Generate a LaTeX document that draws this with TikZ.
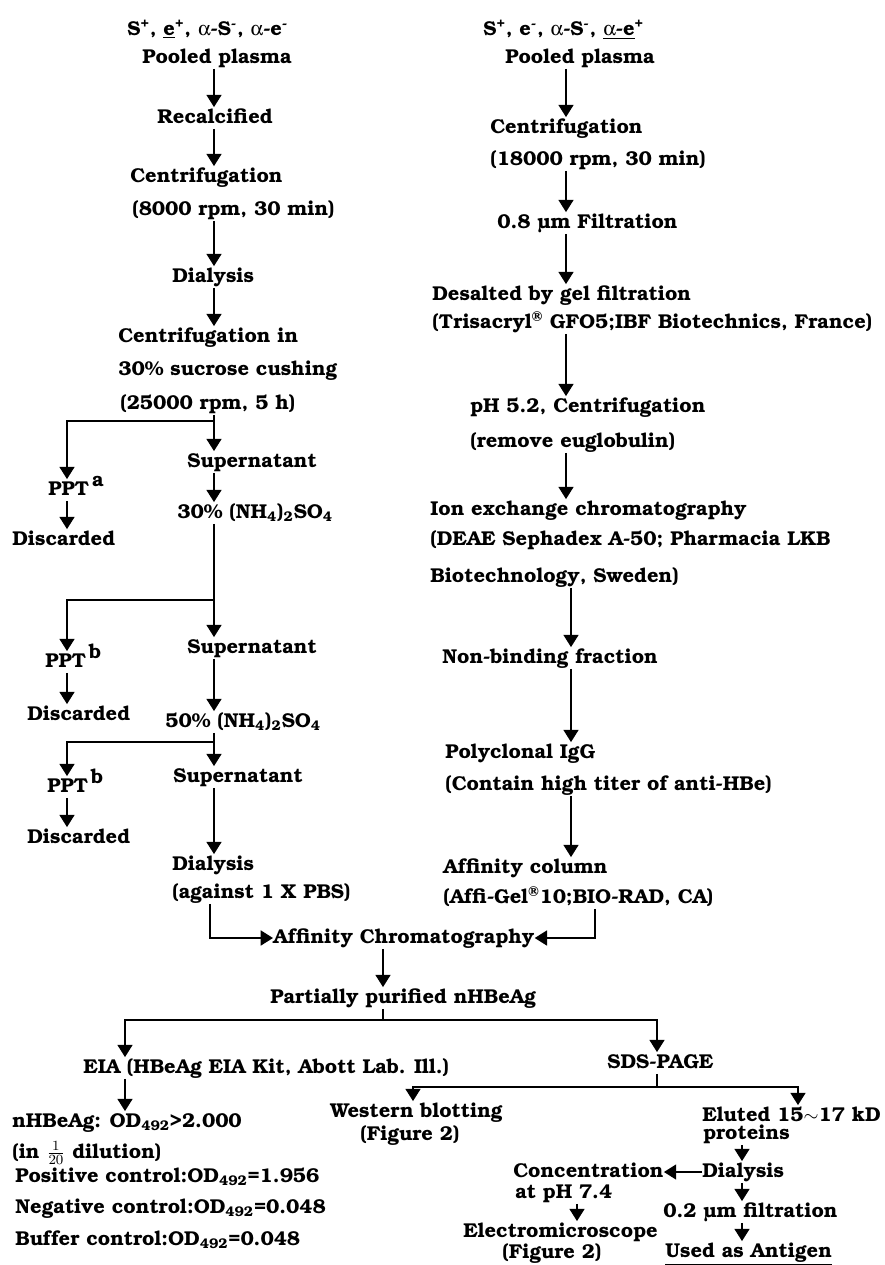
\documentclass[tikz,border=0pt]{standalone}
\usepackage[T1]{fontenc}
\usepackage{bookman}
\usepackage[Symbol]{upgreek}
\usetikzlibrary{arrows.meta}

\begin{document}
\begin{tikzpicture}[x=0.02cm, y=-0.02cm,
    lbl/.style={anchor=west, inner sep=0pt, text height=9pt, text depth=3pt,
      font=\fontsize{11.4}{14}\selectfont\bfseries},
    flow/.style={-{Triangle[width=8.5pt,length=7pt]}, line width=1.1pt},
    link/.style={line width=1.1pt}]
    \useasboundingbox (0,0) rectangle (885,1265);

    % column guides
    \coordinate (cl) at (214,0);
    \coordinate (cp) at (67,0);
    \coordinate (cra) at (566,0);
    \coordinate (crb) at (571,0);
    \coordinate (ml) at (210,0);
    \coordinate (mr) at (595,0);
    \coordinate (cm) at (383,0);
    \coordinate (ca) at (125,0);
    \coordinate (cs) at (657,0);
    \coordinate (cw) at (413,0);
    \coordinate (ce) at (798,0);
    \coordinate (cd) at (742,0);
    \coordinate (cc) at (577,0);

    % left column
    \node[lbl] (hdrL) at (127,30) {S\textsuperscript{+}, \underline{e}\textsuperscript{+}, $\upalpha$-S\textsuperscript{-}, $\upalpha$-e\textsuperscript{-}};
    \node[lbl] (poolL) at (142,58) {Pooled plasma};
    \node[lbl] (recalc) at (157,118) {Recalcified};
    \node[lbl] (cenL) at (130,177) {Centrifugation};
    \node[lbl] (cenLb) at (132,210) {(8000 rpm, 30 min)};
    \node[lbl] (dialL) at (172,277) {Dialysis};
    \node[lbl] (sucA) at (118,337) {Centrifugation in};
    \node[lbl] (sucB) at (118,370) {30\% sucrose cushing};
    \node[lbl] (sucC) at (120,404) {(25000 rpm, 5 h)};
    \node[lbl] (pptA) at (48,490) {PPT\raisebox{5pt}{\,a}};
    \node[lbl] (discA) at (12,540) {Discarded};
    \node[lbl] (supA) at (187,462) {Supernatant};
    \node[lbl] (amsA) at (177,513) {30\% (NH\textsubscript{4})\textsubscript{2}SO\textsubscript{4}};
    \node[lbl] (pptB) at (45,662) {PPT\raisebox{5pt}{\,b}};
    \node[lbl] (discB) at (27,715) {Discarded};
    \node[lbl] (supB) at (187,648) {Supernatant};
    \node[lbl] (amsB) at (165,722) {50\% (NH\textsubscript{4})\textsubscript{2}SO\textsubscript{4}};
    \node[lbl] (supC) at (173,777) {Supernatant};
    \node[lbl] (pptC) at (47,787) {PPT\raisebox{5pt}{\,b}};
    \node[lbl] (discC) at (27,838) {Discarded};
    \node[lbl] (dialLb) at (172,865) {Dialysis};
    \node[lbl] (pbs) at (172,893) {(against 1 X PBS)};

    % right column
    \node[lbl] (hdrR) at (483,30) {S\textsuperscript{+}, e\textsuperscript{-}, $\upalpha$-S\textsuperscript{-}, \underline{$\upalpha$-e}\textsuperscript{+}};
    \node[lbl] (poolR) at (505,58) {Pooled plasma};
    \node[lbl] (cenR) at (490,128) {Centrifugation};
    \node[lbl] (cenRb) at (490,160) {(18000 rpm, 30 min)};
    \node[lbl] (filt) at (497,223) {0.8 \textmu m Filtration};
    \node[lbl] (desalt) at (432,295) {Desalted by gel filtration};
    \node[lbl] (desaltb) at (432,323) {(Trisacryl\textsuperscript{\textregistered} GFO5;IBF Biotechnics, France)};
    \node[lbl] (phcen) at (470,407) {pH 5.2, Centrifugation};
    \node[lbl] (phcenb) at (470,442) {(remove euglobulin)};
    \node[lbl] (ionx) at (430,510) {Ion exchange chromatography};
    \node[lbl] (ionxb) at (430,540) {(DEAE Sephadex A-50; Pharmacia LKB};
    \node[lbl] (ionxc) at (430,577) {Biotechnology, Sweden)};
    \node[lbl] (nonbind) at (442,658) {Non-binding fraction};
    \node[lbl] (igg) at (445,753) {Polyclonal IgG};
    \node[lbl] (iggb) at (445,785) {(Contain high titer of anti-HBe)};
    \node[lbl] (afcol) at (443,868) {Affinity column};
    \node[lbl] (afcolb) at (443,898) {(Affi-Gel\textsuperscript{\textregistered}10;BIO-RAD, CA)};

    % bottom part
    \node[lbl] (afchrom) at (273,938) {Affinity Chromatography};
    \node[lbl] (partial) at (270,998) {Partially purified nHBeAg};
    \node[lbl] (eia) at (83,1068) {EIA (HBeAg EIA Kit, Abott Lab. Ill.)};
    \node[lbl] (sds) at (607,1063) {SDS-PAGE};
    \node[lbl] (odA) at (12,1122) {nHBeAg: OD\textsubscript{492}>2.000};
    \node[lbl] (odB) at (12,1153) {(in $\frac{1}{20}$ dilution)};
    \node[lbl] (odC) at (15,1177) {Positive control:OD\textsubscript{492}=1.956};
    \node[lbl] (odD) at (15,1208) {Negative control:OD\textsubscript{492}=0.048};
    \node[lbl] (odE) at (15,1240) {Buffer control:OD\textsubscript{492}=0.048};
    \node[lbl] (west) at (330,1112) {Western blotting};
    \node[lbl] (westb) at (360,1135) {(Figure 2)};
    \node[lbl] (elut) at (702,1116) {Eluted 15$\sim$17 kD};
    \node[lbl] (elutb) at (703,1134) {proteins};
    \node[lbl] (dialB) at (702,1172) {Dialysis};
    \node[lbl] (conc) at (513,1172) {Concentration};
    \node[lbl] (concb) at (515,1193) {at pH 7.4};
    \node[lbl] (emic) at (463,1232) {Electromicroscope};
    \node[lbl] (emicb) at (502,1253) {(Figure 2)};
    \node[lbl] (filtb) at (663,1212) {0.2 \textmu m filtration};
    \node[lbl] (antigen) at (665,1252) {\underline{Used as Antigen}};

    % split points
    \coordinate (jA) at (214,421);
    \coordinate (jB) at (214,600);
    \coordinate (jC) at (214,742);
    \coordinate (jD) at (383,1020);
    \coordinate (jE) at (657,1087);

    % left arrows
    \draw[flow] (poolL.south -| cl) -- (recalc.north -| cl);
    \draw[flow] (recalc.south -| cl) -- (cenL.north -| cl);
    \draw[flow] (cenLb.south -| cl) -- (dialL.north -| cl);
    \draw[flow] (dialL.south -| cl) -- (sucA.north -| cl);
    \draw[link] (sucC.south -| cl) -- (jA);
    \draw[flow] (jA) -- (supA.north -| cl);
    \draw[flow] (jA) -| (pptA.north -| cp);
    \draw[flow] (pptA.south -| cp) -- (discA.north -| cp);
    \draw[flow] (supA.south -| cl) -- (amsA.north -| cl);
    \draw[flow] (amsA.south -| cl) -- (supB.north -| cl);
    \draw[flow] (jB) -| (pptB.north -| cp);
    \draw[flow] (pptB.south -| cp) -- (discB.north -| cp);
    \draw[flow] (supB.south -| cl) -- (amsB.north -| cl);
    \draw[flow] (amsB.south -| cl) -- (supC.north -| cl);
    \draw[flow] (jC) -| (pptC.north -| cp);
    \draw[flow] (pptC.south -| cp) -- (discC.north -| cp);
    \draw[flow] (supC.south -| cl) -- (dialLb.north -| cl);
    \draw[flow] (pbs.south -| ml) |- (afchrom.west);

    % right arrows
    \draw[flow] (poolR.south -| cra) -- (cenR.north -| cra);
    \draw[flow] (cenRb.south -| cra) -- (filt.north -| cra);
    \draw[flow] (filt.south -| cra) -- (desalt.north -| cra);
    \draw[flow] (desaltb.south -| cra) -- (phcen.north -| cra);
    \draw[flow] (phcenb.south -| cra) -- (ionx.north -| cra);
    \draw[flow] (ionxc.south -| crb) -- (nonbind.north -| crb);
    \draw[flow] (nonbind.south -| crb) -- (igg.north -| crb);
    \draw[flow] (iggb.south -| crb) -- (afcol.north -| crb);
    \draw[flow] (afcolb.south -| mr) |- (afchrom.east);

    % bottom arrows
    \draw[flow] (afchrom.south -| cm) -- (partial.north -| cm);
    \draw[link] (partial.south -| cm) -- (jD);
    \draw[flow] (jD) -| (eia.north -| ca);
    \draw[flow] (jD) -| (sds.north -| cs);
    \draw[flow] (eia.south -| ca) -- (odA.north -| ca);
    \draw[link] (sds.south -| cs) -- (jE);
    \draw[flow] (jE) -| (west.north -| cw);
    \draw[flow] (jE) -| (elut.north -| ce);
    \draw[flow] (elutb.south -| cd) -- (dialB.north -| cd);
    \draw[flow] (dialB.west) -- (conc.east);
    \draw[flow] (concb.south -| cc) -- (emic.north -| cc);
    \draw[flow] (dialB.south -| cd) -- (filtb.north -| cd);
    \draw[flow] (filtb.south -| cd) -- (antigen.north -| cd);
\end{tikzpicture}
\end{document}
